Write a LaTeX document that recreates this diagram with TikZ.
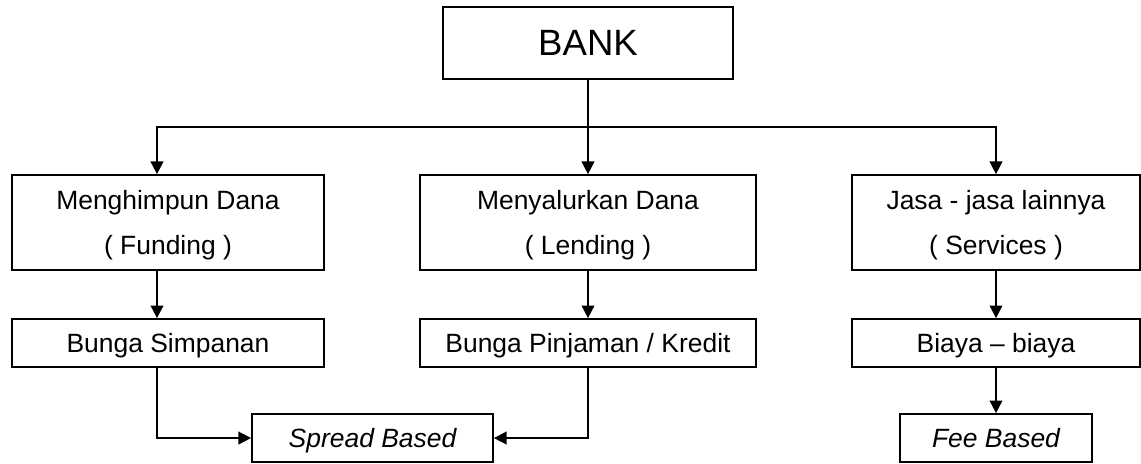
\documentclass[tikz,border=0pt]{standalone}
\usepackage{fontspec}
\setmainfont{Liberation Sans}
\usepackage{tikz}
\usetikzlibrary{arrows.meta}

\begin{document}
\begin{tikzpicture}[x=0.025cm, y=-0.025cm,
  box/.style={draw, line width=1.2pt, rectangle, align=center, inner sep=0pt, text depth=0pt},
  arr/.style={-{Triangle[length=9pt,width=9pt]}, line width=1.2pt},
  every node/.style={font=\fontsize{18.8pt}{32pt}\selectfont}]

\useasboundingbox (0,0) rectangle (1141,463);

% bank
\node[box, minimum width=7.25cm, minimum height=1.8cm,
  font=\fontsize{26pt}{30pt}\selectfont] (bank) at (588,43) {BANK};
\coordinate (split) at (588,127);

% baris pertama
\node[box, minimum width=7.8cm, minimum height=2.375cm] (funding) at (168,222.5)
  {Menghimpun Dana\\( Funding )};
\node[box, minimum width=8.4cm, minimum height=2.375cm] (lending) at (588,222.5)
  {Menyalurkan Dana\\( Lending )};
\node[box, minimum width=7.2cm, minimum height=2.375cm] (services) at (996,222.5)
  {Jasa - jasa lainnya\\( Services )};

% baris kedua
\node[box, minimum width=7.8cm, minimum height=1.2cm] (simpanan) at (168,343) {Bunga Simpanan};
\node[box, minimum width=8.4cm, minimum height=1.2cm] (pinjaman) at (588,343) {Bunga Pinjaman / Kredit};
\node[box, minimum width=7.2cm, minimum height=1.2cm] (biaya) at (996,343) {Biaya -- biaya};

% hasil
\node[box, minimum width=6.025cm, minimum height=1.2cm] (spread) at (372.5,438) {\itshape Spread Based};
\node[box, minimum width=4.8cm, minimum height=1.2cm] (fee) at (996,438) {\itshape Fee Based};

% panah
\draw[arr] (bank.south) -- (lending.north);
\draw[arr] (split) -| ([xshift=-2.75mm]funding.north);
\draw[arr] (split) -| (services.north);
\draw[arr] ([xshift=-2.75mm]funding.south) -- ([xshift=-2.75mm]simpanan.north);
\draw[arr] (lending.south) -- (pinjaman.north);
\draw[arr] (services.south) -- (biaya.north);
\draw[arr] ([xshift=-2.75mm]simpanan.south) |- (spread.west);
\draw[arr] (pinjaman.south) |- (spread.east);
\draw[arr] (biaya.south) -- (fee.north);

\end{tikzpicture}
\end{document}
